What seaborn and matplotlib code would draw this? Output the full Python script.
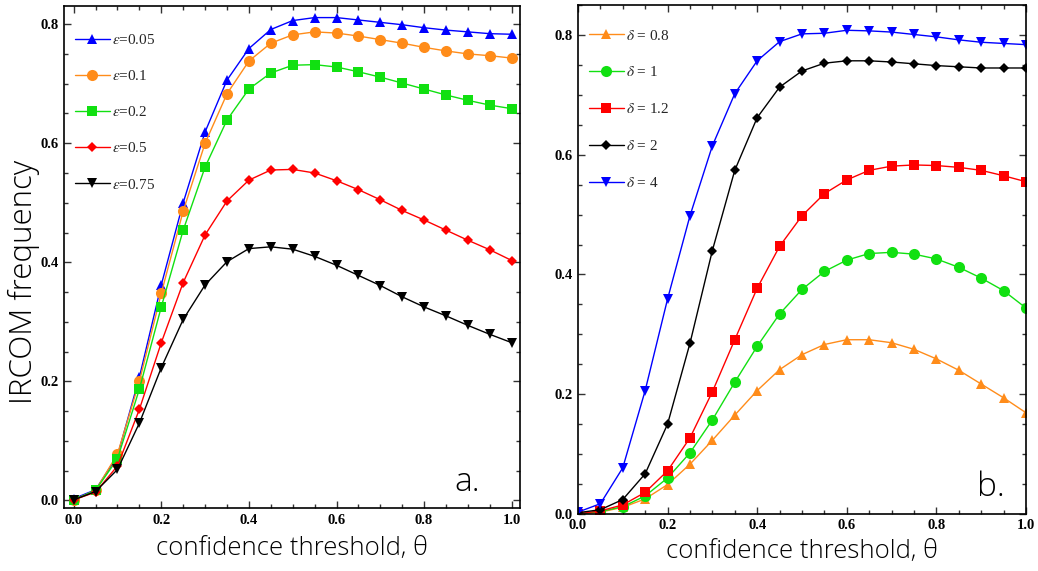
import numpy as np
import pandas as pd
import matplotlib
matplotlib.use("Agg")
import matplotlib.pyplot as plt
import seaborn as sns
from matplotlib.ticker import MultipleLocator

sns.set_theme(style="ticks")
plt.rcParams['font.family'] = ['Liberation Serif', 'DejaVu Serif']
plt.rcParams['mathtext.fontset'] = 'stix'

# shared x grid: confidence threshold
theta = [0.0, 0.05, 0.1, 0.15, 0.2, 0.25, 0.3, 0.35, 0.4, 0.45, 0.5,
         0.55, 0.6, 0.65, 0.7, 0.75, 0.8, 0.85, 0.9, 0.95, 1.0]

# panel a: epsilon series
eps_labels = [r'$\varepsilon$=0.05', r'$\varepsilon$=0.1', r'$\varepsilon$=0.2',
              r'$\varepsilon$=0.5', r'$\varepsilon$=0.75']
eps_005 = [0.003, 0.018, 0.075, 0.207, 0.362, 0.500, 0.619, 0.706, 0.759, 0.791, 0.806,
           0.811, 0.811, 0.807, 0.803, 0.799, 0.794, 0.790, 0.787, 0.784, 0.783]
eps_01 = [0.001, 0.017, 0.078, 0.200, 0.348, 0.486, 0.600, 0.683, 0.738, 0.768, 0.782,
          0.787, 0.785, 0.780, 0.774, 0.768, 0.761, 0.755, 0.750, 0.747, 0.743]
eps_02 = [0.001, 0.017, 0.070, 0.187, 0.325, 0.454, 0.560, 0.639, 0.691, 0.718, 0.731,
          0.732, 0.728, 0.720, 0.711, 0.701, 0.691, 0.681, 0.672, 0.664, 0.658]
eps_05 = [0.001, 0.014, 0.058, 0.153, 0.265, 0.366, 0.446, 0.503, 0.538, 0.555, 0.556,
          0.550, 0.537, 0.522, 0.505, 0.487, 0.471, 0.454, 0.437, 0.421, 0.403]
eps_075 = [0.001, 0.015, 0.052, 0.130, 0.223, 0.304, 0.362, 0.401, 0.423, 0.426, 0.422,
           0.410, 0.395, 0.378, 0.361, 0.342, 0.325, 0.310, 0.294, 0.279, 0.265]

# panel b: delta series
delta_labels = [r'$\delta$ = 0.8', r'$\delta$ = 1', r'$\delta$ = 1.2', r'$\delta$ = 2', r'$\delta$ = 4']
d_08 = [0.0, 0.003, 0.011, 0.025, 0.049, 0.083, 0.123, 0.165, 0.206, 0.241, 0.266,
        0.283, 0.291, 0.291, 0.286, 0.275, 0.259, 0.240, 0.217, 0.194, 0.169]
d_1 = [0.0, 0.004, 0.012, 0.030, 0.060, 0.102, 0.157, 0.220, 0.280, 0.334, 0.375,
       0.405, 0.424, 0.435, 0.437, 0.434, 0.426, 0.412, 0.394, 0.373, 0.344]
d_12 = [0.0, 0.005, 0.015, 0.036, 0.072, 0.127, 0.204, 0.291, 0.377, 0.447, 0.498,
        0.535, 0.558, 0.574, 0.581, 0.583, 0.582, 0.579, 0.574, 0.565, 0.555]
d_2 = [0.002, 0.007, 0.024, 0.067, 0.150, 0.285, 0.440, 0.574, 0.662, 0.713, 0.740,
       0.753, 0.757, 0.757, 0.755, 0.752, 0.749, 0.747, 0.745, 0.745, 0.745]
d_4 = [0.003, 0.017, 0.077, 0.206, 0.359, 0.498, 0.615, 0.702, 0.757, 0.789, 0.802,
       0.803, 0.808, 0.807, 0.805, 0.801, 0.797, 0.792, 0.788, 0.786, 0.784]

fig = plt.figure(figsize=(10.38, 5.71), dpi=100)
ax_a = fig.add_axes([0.0617, 0.110, 0.4393, 0.879])
ax_b = fig.add_axes([0.5568, 0.100, 0.4316, 0.891])

blue, orange, green, red, black = '#0000ff', '#ff8c1a', '#11e011', '#ff0000', '#000000'

series_a = [(eps_005, blue, '^', 7), (eps_01, orange, 'o', 8), (eps_02, green, 's', 6.5),
            (eps_05, red, 'D', 5.5), (eps_075, black, 'v', 7)]
for (vals, col, mk, ms), lab in zip(series_a, eps_labels):
    sns.lineplot(x=theta, y=vals, ax=ax_a, color=col, marker=mk, markersize=ms,
                 markeredgewidth=0, linewidth=1, label=lab)

series_b = [(d_08, orange, '^', 7), (d_1, green, 'o', 8), (d_12, red, 's', 6.5),
            (d_2, black, 'D', 5.5), (d_4, blue, 'v', 7)]
for (vals, col, mk, ms), lab in zip(series_b, delta_labels):
    sns.lineplot(x=theta, y=vals, ax=ax_b, color=col, marker=mk, markersize=ms,
                 markeredgewidth=0, linewidth=1, label=lab)

ax_a.set_xlim(-0.022, 1.019)
ax_a.set_ylim(-0.013, 0.83)
ax_b.set_xlim(0, 1.0)
ax_b.set_ylim(0, 0.85)

sans = ['Open Sans', 'Lato', 'DejaVu Sans']
for ax, top, sp, pad in ((ax_a, 0.968, 1.45, 7), (ax_b, 0.975, 1.5, 5)):
    ax.xaxis.set_major_locator(MultipleLocator(0.2))
    ax.xaxis.set_minor_locator(MultipleLocator(0.05))
    ax.yaxis.set_major_locator(MultipleLocator(0.2))
    ax.yaxis.set_minor_locator(MultipleLocator(0.05))
    ax.xaxis.set_major_formatter(matplotlib.ticker.FormatStrFormatter('%.1f'))
    ax.yaxis.set_major_formatter(matplotlib.ticker.FormatStrFormatter('%.1f'))
    ax.tick_params(which='both', direction='in', top=True, right=True, width=1, color='#333333',
                   labelcolor='black')
    ax.tick_params(which='major', length=5, labelsize=10.5, pad=4)
    ax.tick_params(which='minor', length=3)
    for lbl in ax.get_xticklabels() + ax.get_yticklabels():
        lbl.set_fontweight('bold')
    for s in ax.spines.values():
        s.set_linewidth(1.2)
        s.set_color('black')
    ax.set_xlabel('confidence threshold, θ', fontsize=18.5, labelpad=pad, family=sans,
                  fontweight=300, color='black')
    ax.legend(loc='upper left', bbox_to_anchor=(0.0, top), frameon=False, fontsize=11,
              labelspacing=sp, handlelength=2.3, handletextpad=0.15, borderaxespad=0.3)

ax_a.set_ylabel('IRCOM frequency', fontsize=22.5, family=sans, fontweight=300, color='black')
ax_a.yaxis.set_label_coords(-0.052, 0.45)
ax_a.text(0.855, 0.052, 'a.', transform=ax_a.transAxes, fontsize=24, va='center',
          family=sans, fontweight=300, color='black')
ax_b.text(0.89, 0.052, 'b.', transform=ax_b.transAxes, fontsize=24, va='center',
          family=sans, fontweight=300, color='black')

fig.savefig('out.png', dpi=100)
